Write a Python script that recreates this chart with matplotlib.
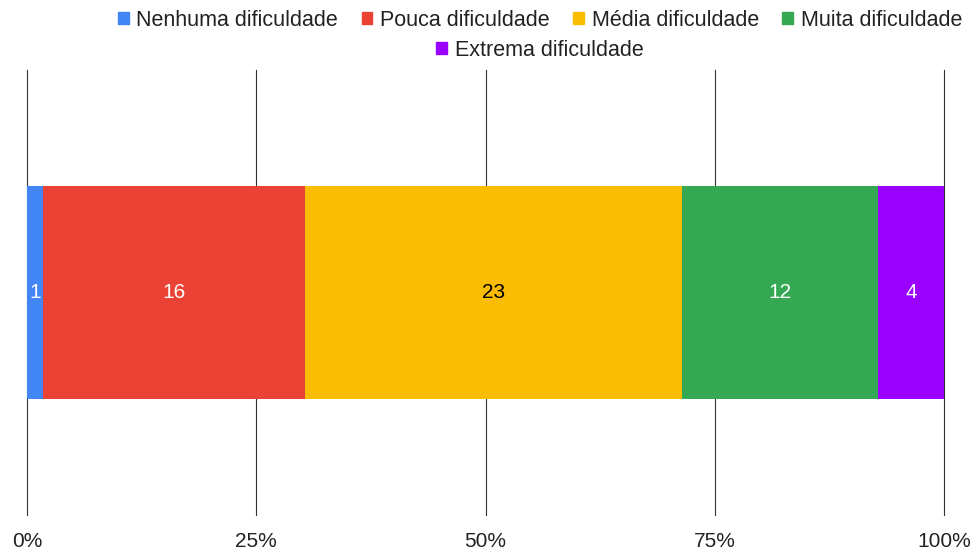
import numpy as np
from matplotlib import pyplot as plt
from matplotlib.patches import Patch

plt.rcParams['font.family'] = ['Liberation Sans', 'DejaVu Sans']

categorias = ["Nenhuma dificuldade", "Pouca dificuldade", "Média dificuldade",
              "Muita dificuldade", "Extrema dificuldade"]
valores = [1, 16, 23, 12, 4]
cores = ["#4285F4", "#EA4335", "#FBBC04", "#34A853", "#9900FF"]
cor_texto = ["white", "white", "black", "white", "white"]
ticks = [0, 0.25, 0.5, 0.75, 1.0]
tick_labels = ["0%", "25%", "50%", "75%", "100%"]

fig = plt.figure(figsize=(9.74, 5.51), dpi=100)
ax = fig.add_axes([27/974, 1-515/551, (944-27)/974, (515-70)/551])

total = sum(valores)
fracs = np.array(valores) / total
esquerda = 0
for v, f, c, tc in zip(valores, fracs, cores, cor_texto):
    ax.barh(0, f, left=esquerda, height=0.48, color=c, zorder=3)
    ax.text(esquerda + f/2, 0, str(v), ha="center", va="center",
            color=tc, fontsize=15, zorder=4)
    esquerda += f

ax.set_xlim(0, 1)
ax.set_ylim(-0.5, 0.5)
ax.set_xticks(ticks)
ax.set_xticklabels(tick_labels, fontsize=15, color="#222222")
ax.set_yticks([])
ax.tick_params(axis="x", length=0, pad=12)
for t in ticks:
    ax.axvline(t, color="#333333", linewidth=0.8, zorder=0, clip_on=False)
for s in ax.spines.values():
    s.set_visible(False)

# legenda em duas linhas, centrada
handles = [Patch(color=c, label=l) for c, l in zip(cores, categorias)]
fig.legend(handles=handles[:4], loc="center", bbox_to_anchor=(540/974, 1-20/551),
           ncol=4, frameon=False, fontsize=15.5, handlelength=0.5, handleheight=0.5,
           handletextpad=0.35, columnspacing=1.1, borderpad=0, labelcolor="#222222")
fig.legend(handles=handles[4:], loc="center", bbox_to_anchor=(540/974, 1-50/551),
           ncol=1, frameon=False, fontsize=15.5, handlelength=0.5, handleheight=0.5,
           handletextpad=0.35, borderpad=0, labelcolor="#222222")

fig.savefig("out.png", dpi=100)
